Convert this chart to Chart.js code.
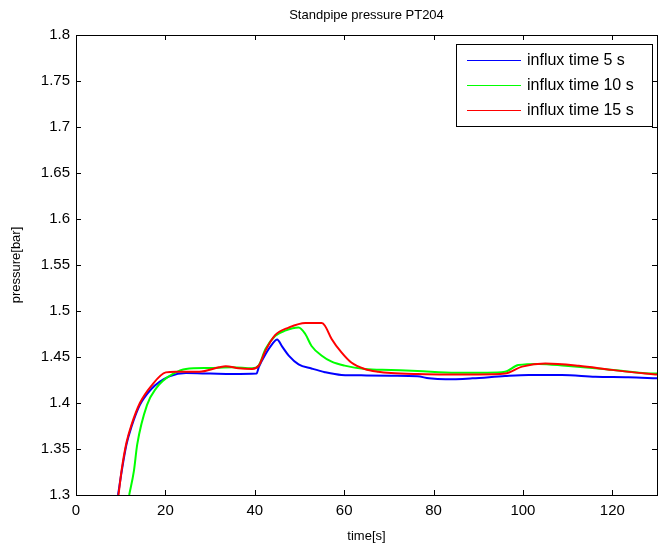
<!DOCTYPE html>
<html>
<head>
<meta charset="utf-8">
<title>Standpipe pressure PT204</title>
<script src="https://cdn.jsdelivr.net/npm/chart.js@4/dist/chart.umd.min.js"></script>
<style>
  body { margin: 0; background: #fff; }
  #wrap { width: 660px; height: 548px; }
</style>
</head>
<body>
<div id="wrap"><canvas id="chartCanvas" width="660" height="548"></canvas></div>
<script>
// datos (tiempo en s, presion en bar)
const seriesLabels = ['influx time 5 s', 'influx time 10 s', 'influx time 15 s'];
const seriesColors = ['#0000ff', '#00ff00', '#ff0000'];

const blueTime = [9.4, 10.3, 11.3, 12.4, 14.3, 16.9, 18.7, 20.9, 24.6, 30, 35, 40.4, 40.9, 42.4, 43.9, 45, 46.1, 47.6, 49.8, 52.7, 55.7, 59.4, 65, 70.5, 76.4, 79, 82.7, 88.7, 96, 101.3, 108.7, 116.2, 123.6, 130];
const bluePressure = [1.3, 1.328, 1.355, 1.374, 1.398, 1.4155, 1.423, 1.429, 1.4325, 1.432, 1.4315, 1.432, 1.439, 1.453, 1.464, 1.469, 1.4615, 1.4515, 1.442, 1.4375, 1.4335, 1.4305, 1.430, 1.4297, 1.429, 1.4268, 1.4257, 1.4268, 1.4293, 1.4304, 1.4304, 1.4286, 1.428, 1.4268];

const greenTime = [11.9, 12.95, 13.7, 15.9, 18, 19.4, 21.6, 24.6, 29.8, 35, 39.4, 40.9, 42.4, 44.6, 46.8, 49.8, 51.3, 52.7, 55, 57.2, 60.1, 64.6, 70.5, 76.4, 85, 92, 96, 99, 103.6, 109.5, 116.2, 122, 127.4, 130];
const greenPressure = [1.3, 1.326, 1.355, 1.398, 1.4165, 1.424, 1.4315, 1.437, 1.438, 1.4388, 1.4377, 1.441, 1.4587, 1.473, 1.4786, 1.482, 1.475, 1.462, 1.4514, 1.4449, 1.4406, 1.437, 1.4359, 1.4348, 1.433, 1.433, 1.434, 1.4413, 1.4425, 1.4405, 1.4377, 1.435, 1.4323, 1.432];

const redTime = [9.5, 10.3, 11.3, 12.4, 14.3, 16.9, 20.1, 22.4, 27.6, 32, 33.5, 36.4, 39.4, 40.9, 42.4, 44.6, 47.6, 51.3, 55, 55.7, 57.2, 59.4, 61.6, 64.6, 67.6, 70.5, 76.4, 82.7, 90, 96, 99.8, 105, 112.5, 119.9, 127.4, 130];
const redPressure = [1.3, 1.33, 1.357, 1.376, 1.4, 1.419, 1.4333, 1.434, 1.434, 1.4388, 1.44, 1.4377, 1.437, 1.4406, 1.4569, 1.474, 1.482, 1.487, 1.487, 1.484, 1.4696, 1.455, 1.444, 1.437, 1.434, 1.4326, 1.4315, 1.431, 1.431, 1.432, 1.4395, 1.443, 1.4405, 1.436, 1.432, 1.431];

const xTickValues = [0, 20, 40, 60, 80, 100, 120];
const yTickValues = [1.3, 1.35, 1.4, 1.45, 1.5, 1.55, 1.6, 1.65, 1.7, 1.75, 1.8];

const FONT = 'Arial, "Liberation Sans", Helvetica, sans-serif';

function toPoints(xs, ys) {
  return xs.map((x, i) => ({ x: x, y: ys[i] }));
}

// caja estilo MATLAB, ticks hacia adentro, titulo y leyenda
const matlabAxes = {
  id: 'matlabAxes',
  afterDraw(chart) {
    const ctx = chart.ctx;
    const a = chart.chartArea;
    const xs = chart.scales.x;
    const ys = chart.scales.y;
    const len = 5;
    ctx.save();
    ctx.strokeStyle = '#000';
    ctx.lineWidth = 1;
    ctx.beginPath();
    xTickValues.forEach(v => {
      const px = Math.round(xs.getPixelForValue(v)) + 0.5;
      ctx.moveTo(px, a.bottom); ctx.lineTo(px, a.bottom - len);
      ctx.moveTo(px, a.top); ctx.lineTo(px, a.top + len);
    });
    yTickValues.forEach(v => {
      const py = Math.round(ys.getPixelForValue(v)) + 0.5;
      ctx.moveTo(a.left, py); ctx.lineTo(a.left + len, py);
      ctx.moveTo(a.right, py); ctx.lineTo(a.right - len, py);
    });
    ctx.stroke();
    ctx.strokeRect(Math.round(a.left) + 0.5, Math.round(a.top) + 0.5,
                   Math.round(a.right - a.left), Math.round(a.bottom - a.top));

    // titulo
    ctx.fillStyle = '#000';
    ctx.font = '13px ' + FONT;
    ctx.textAlign = 'center';
    ctx.textBaseline = 'middle';
    ctx.fillText('Standpipe pressure PT204', (a.left + a.right) / 2, 15);

    // leyenda
    const lx = 456, ly = 44, lw = 196, lh = 82;
    ctx.fillStyle = '#fff';
    ctx.fillRect(lx, ly, lw, lh);
    ctx.strokeRect(lx + 0.5, ly + 0.5, lw, lh);
    ctx.font = '16px ' + FONT;
    ctx.textAlign = 'left';
    chart.data.datasets.forEach((ds, i) => {
      const yy = ly + 16 + i * 25;
      ctx.strokeStyle = ds.borderColor;
      ctx.lineWidth = 1.2;
      ctx.beginPath();
      ctx.moveTo(467, yy + 0.5); ctx.lineTo(521, yy + 0.5);
      ctx.stroke();
      ctx.fillStyle = '#000';
      ctx.fillText(ds.label, 527, yy + 1);
    });
    ctx.restore();
  }
};

const ctx = document.getElementById('chartCanvas').getContext('2d');
new Chart(ctx, {
  type: 'line',
  data: {
    datasets: [
      { label: seriesLabels[0], data: toPoints(blueTime, bluePressure), borderColor: seriesColors[0], order: 2 },
      { label: seriesLabels[1], data: toPoints(greenTime, greenPressure), borderColor: seriesColors[1], order: 1 },
      { label: seriesLabels[2], data: toPoints(redTime, redPressure), borderColor: seriesColors[2], order: 0 }
    ].map(d => Object.assign(d, { borderWidth: 2, pointRadius: 0, fill: false, cubicInterpolationMode: 'monotone' }))
  },
  options: {
    responsive: false,
    animation: false,
    layout: { padding: { top: 35, right: 3, left: 0, bottom: 0 } },
    plugins: {
      legend: { display: false },
      title: { display: false },
      tooltip: { enabled: false }
    },
    scales: {
      x: {
        type: 'linear',
        min: 0,
        max: 130,
        afterBuildTicks: s => { s.ticks = xTickValues.map(v => ({ value: v })); },
        afterFit: s => { s.height = 53; },
        grid: { display: false, drawTicks: false },
        border: { display: false },
        ticks: { color: '#000', padding: 7, maxRotation: 0, font: { family: FONT, size: 15 } },
        title: { display: true, text: 'time[s]', color: '#000', padding: { top: 0, bottom: 4 }, font: { family: FONT, size: 13 } }
      },
      y: {
        type: 'linear',
        min: 1.3,
        max: 1.8,
        afterBuildTicks: s => { s.ticks = yTickValues.map(v => ({ value: v })); },
        afterFit: s => { s.width = 76; },
        grid: { display: false, drawTicks: false },
        border: { display: false },
        ticks: {
          color: '#000', padding: 6, font: { family: FONT, size: 15 },
          callback: v => String(Number(v.toFixed(2)))
        },
        title: { display: true, text: 'pressure[bar]', color: '#000', padding: { top: 9, bottom: 0 }, font: { family: FONT, size: 13 } }
      }
    }
  },
  plugins: [matlabAxes]
});
</script>
</body>
</html>
